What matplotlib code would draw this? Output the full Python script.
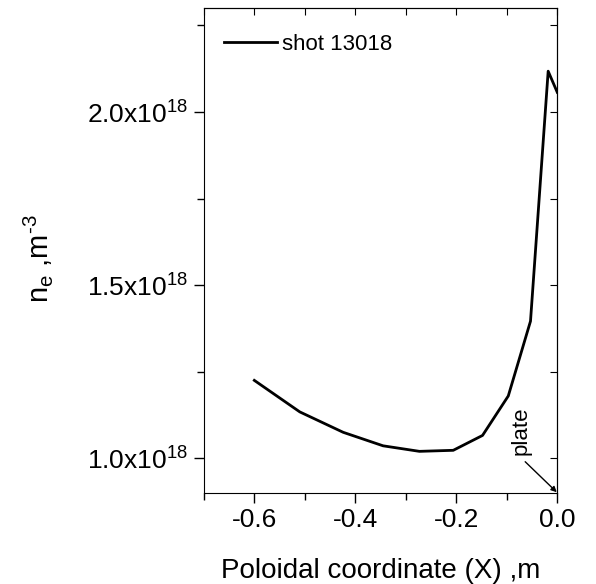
import matplotlib
matplotlib.use("Agg")
import matplotlib.pyplot as plt
from matplotlib.ticker import MultipleLocator, FuncFormatter

plt.rcParams['font.family'] = ['Liberation Sans', 'DejaVu Sans']
plt.rcParams['mathtext.fontset'] = 'custom'
plt.rcParams['mathtext.rm'] = 'Liberation Sans'
plt.rcParams['mathtext.it'] = 'Liberation Sans'

# density profile, shot 13018 (values in units of 1e18 m^-3)
x_pos = [-0.60, -0.51, -0.424, -0.345, -0.273, -0.206, -0.148, -0.097, -0.053, -0.018, 0.0]
n_e = [1.225, 1.134, 1.075, 1.036, 1.020, 1.023, 1.066, 1.18, 1.396, 2.118, 2.057]

fig = plt.figure(figsize=(5.96, 5.84), dpi=100)
ax = fig.add_axes([0.342, 0.156, 0.593, 0.830])

ax.plot(x_pos, n_e, color='black', lw=2, label='shot 13018')

ax.set_xlim(-0.7, 0.0)
ax.set_ylim(0.9, 2.3)
ax.xaxis.set_major_locator(MultipleLocator(0.2))
ax.xaxis.set_minor_locator(MultipleLocator(0.1))
ax.yaxis.set_major_locator(MultipleLocator(0.5))
ax.yaxis.set_minor_locator(MultipleLocator(0.25))
ax.xaxis.set_major_formatter(FuncFormatter(lambda v, p: f"{v:.1f}".replace("-0.0", "0.0")))
ax.yaxis.set_major_formatter(FuncFormatter(lambda v, p: f"{v:.1f}x10$^{{18}}$"))

ax.tick_params(which='both', direction='out', top=False, right=False, labelsize=19, width=1, pad=4)
ax.tick_params(which='major', length=7)
ax.tick_params(which='minor', length=5)
# inward ticks on top/right
sec_x = ax.secondary_xaxis('top')
sec_x.xaxis.set_major_locator(MultipleLocator(0.1))
sec_x.tick_params(direction='in', length=5, labeltop=False)
sec_y = ax.secondary_yaxis('right')
sec_y.yaxis.set_major_locator(MultipleLocator(0.25))
sec_y.tick_params(direction='in', length=5, labelright=False)

ax.set_xlabel('Poloidal coordinate (X) ,m', fontsize=20)
ax.xaxis.set_label_coords(0.5, -0.134)
ax.set_ylabel('n$_e$ ,m$^{\\text{-3}}$', fontsize=21)
ax.yaxis.set_label_coords(-0.42, 0.483)

ax.legend(loc='upper left', bbox_to_anchor=(0.0, 0.988), frameon=False, fontsize=16,
          handlelength=2.4, handletextpad=0.2, borderaxespad=0.5)

ax.text(-0.072, 1.01, 'plate', rotation=90, fontsize=16, ha='center', va='bottom')
ax.annotate('', xy=(-0.001, 0.902), xytext=(-0.0635, 0.99),
            arrowprops=dict(arrowstyle='-|>', color='black', lw=1, mutation_scale=8,
                            shrinkA=0, shrinkB=0))

fig.savefig('out.png', dpi=100)
